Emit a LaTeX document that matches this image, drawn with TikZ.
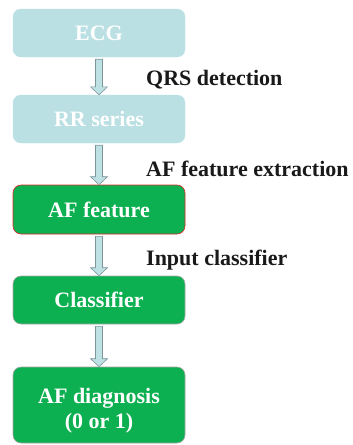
\documentclass[tikz,border=0pt]{standalone}
\usepackage{fontspec}
\setmainfont{Liberation Serif}
\usetikzlibrary{calc}
\definecolor{lightbox}{RGB}{187,224,227}
\definecolor{greenbox}{RGB}{12,176,80}
\definecolor{arrfill}{RGB}{190,225,228}
\definecolor{arrdraw}{RGB}{125,150,155}
\definecolor{redline}{RGB}{220,40,40}
\tikzset{
  box/.style={rounded corners=8pt, minimum width=172pt, inner sep=0pt, align=center,
    text=white, font=\fontsize{22}{25}\selectfont\bfseries},
  lightstep/.style={box, fill=lightbox, draw=lightbox, minimum height=48pt},
  greenstep/.style={box, fill=greenbox, draw=gray!70, line width=0.6pt},
  boxtext/.style={inner sep=0pt, align=center, text=white, font=\fontsize{22}{25}\selectfont\bfseries},
  lbl/.style={anchor=base west, inner sep=0pt, font=\fontsize{22}{25}\selectfont\bfseries, text=black!90},
  arr/.style={fill=arrfill, draw=arrdraw, line width=0.6pt, line join=miter}
}
\newcommand\fatarrow[2]{\draw[arr] ($(#1.south)+(-3.5,2)$) -- ($(#2.north)+(-3.5,-8)$) -- ($(#2.north)+(-8.5,-8)$) -- (#2.north) -- ($(#2.north)+(8.5,-8)$) -- ($(#2.north)+(3.5,-8)$) -- ($(#1.south)+(3.5,2)$) -- cycle;}
\begin{document}
\begin{tikzpicture}[x=1pt,y=-1pt]
\useasboundingbox (0,0) rectangle (353,445);
\node[lightstep] (ecg) at (99,33) {ECG};
\node[lightstep] (rr) at (99,119) {RR series};
\node[greenstep, draw=redline, minimum height=49pt] (af) at (99,209.5) {AF feature};
\node[greenstep, minimum height=48pt] (cls) at (99,300) {Classifier};
\node[greenstep, minimum height=76pt] (diag) at (99,405) {};
\node[boxtext] (diagtext) at (99,411) {AF diagnosis\\(0 or 1)};
\fatarrow{ecg}{rr}
\fatarrow{rr}{af}
\fatarrow{af}{cls}
\fatarrow{cls}{diag}
\node[lbl] (l1) at (146,85) {QRS detection};
\node[lbl] (l2) at (146,176) {AF feature extraction};
\node[lbl] (l3) at (146,265) {Input classifier};
\end{tikzpicture}
\end{document}
